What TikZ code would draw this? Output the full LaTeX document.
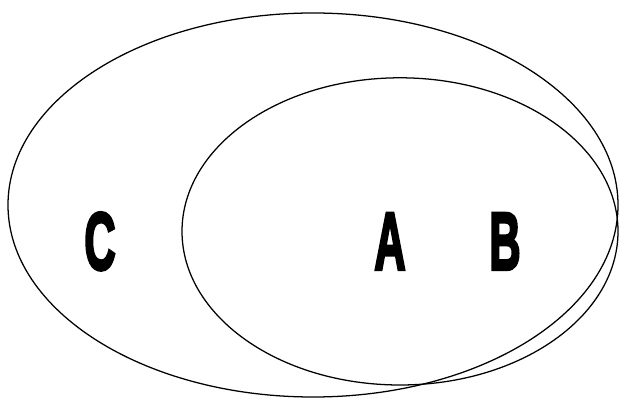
\documentclass[tikz,border=0pt]{standalone}
\usepackage{fontspec}
\usepackage{tikz}
\usetikzlibrary{shapes.geometric, positioning}
\newfontfamily\heavyfont[FakeBold=4]{Liberation Sans Bold}
\newcommand{\setlabel}[1]{\scalebox{0.53}[1]{\heavyfont\fontsize{58}{58}\selectfont #1}}

\begin{document}
\begin{tikzpicture}[
  region/.style={draw=black, line width=0.9pt, ellipse, inner sep=0pt},
  letter/.style={inner sep=0pt, anchor=center},
]
\useasboundingbox (0,0) rectangle (15.5,9.925);
\node[region, minimum width=15.25cm, minimum height=9.6cm] (outer) at (7.825,4.8) {};
\node[region, minimum width=10.9cm, minimum height=7.68cm] (inner) at (10.0,4.14) {};

\node[letter] (labC) at (2.5,3.89) {\setlabel{C}};
\node[letter] (labA) at (9.75,3.89) {\setlabel{A}};
\node[letter, right=2.875cm of labA.center, anchor=center] (labB) {\setlabel{B}};
\end{tikzpicture}
\end{document}
